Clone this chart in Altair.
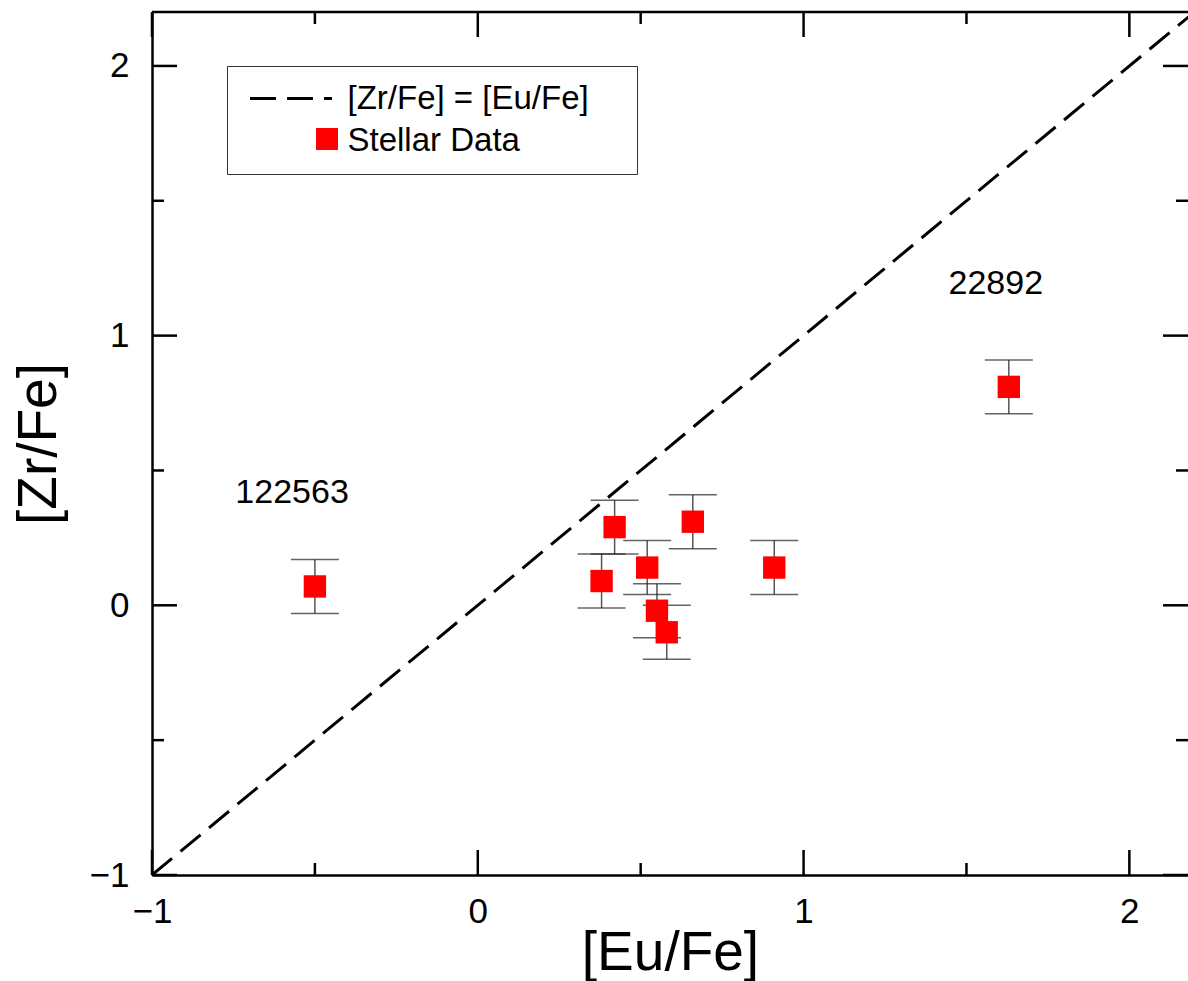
import altair as alt
import pandas as pd

# ---- data ----
eu_fe = [-0.50, 0.38, 0.42, 0.52, 0.55, 0.58, 0.66, 0.91, 1.63]
zr_fe = [0.07, 0.09, 0.29, 0.14, -0.02, -0.10, 0.31, 0.14, 0.81]
zr_err = [0.10, 0.10, 0.10, 0.10, 0.10, 0.10, 0.10, 0.10, 0.10]

line_x = [-1.0, 2.2]            # identity line [Zr/Fe] = [Eu/Fe]
label_text = ["122563", "22892"]
label_x = [-0.57, 1.59]
label_y = [0.415, 1.19]

major_ticks = [-1, 0, 1, 2]
minor_ticks = [-0.5, 0.5, 1.5]
line_name = "[Zr/Fe] = [Eu/Fe]"
point_name = "Stellar Data"

FONT = "Liberation Sans"
W, H = 1036, 863

pts = pd.DataFrame({"eu": eu_fe, "zr": zr_fe, "err": zr_err})
pts["lo"] = pts["zr"] - pts["err"]
pts["hi"] = pts["zr"] + pts["err"]
pts["series"] = point_name

line_df = pd.DataFrame({"eu": line_x, "zr": line_x, "series": line_name})
lab_df = pd.DataFrame({"eu": label_x, "zr": label_y, "txt": label_text})

xs = alt.Scale(domain=[-1, 2.18], nice=False, zero=False)
ys = alt.Scale(domain=[-1, 2.2], nice=False, zero=False)

xaxis = alt.Axis(values=major_ticks, format="d", ticks=False, tickSize=0, grid=False,
                 domain=True, domainColor="black", domainWidth=2.5,
                 labelFontSize=35, labelFont=FONT, labelColor="black", labelPadding=19,
                 labelFlush=False, labelOverlap=False,
                 title="[Eu/Fe]", titleFontSize=55, titleFont=FONT, titleFontWeight="normal",
                 titleColor="black", titleBaseline="alphabetic", titleY=94)
yaxis = alt.Axis(values=major_ticks, format="d", ticks=False, tickSize=0, grid=False,
                 domain=True, domainColor="black", domainWidth=2.5,
                 labelFontSize=35, labelFont=FONT, labelColor="black", labelPadding=23,
                 labelFlush=False, labelOverlap=False,
                 title="[Zr/Fe]", titleFontSize=55, titleFont=FONT, titleFontWeight="normal",
                 titleColor="black", titleBaseline="alphabetic", titleX=-97)


def X(field):
    return alt.X(field, type="quantitative", scale=xs, axis=xaxis)


def Y(field):
    return alt.Y(field, type="quantitative", scale=ys, axis=yaxis)


line = alt.Chart(line_df).mark_line(color="black", strokeWidth=3, clip=True).encode(
    x=X("eu"), y=Y("zr"),
    strokeDash=alt.StrokeDash(
        "series:N",
        scale=alt.Scale(domain=[line_name, point_name], range=[[26, 11], [0, 1000]]),
        legend=alt.Legend(orient="none", legendX=75, legendY=54, title=" ",
                          titleOrient="right", titleFontSize=1, titlePadding=32,
                          symbolType="M-3.727,0H3.727", symbolSize=484, symbolStrokeWidth=3,
                          symbolStrokeColor="black", symbolOffset=31.5,
                          labelFont=FONT, labelFontSize=33, labelColor="black",
                          labelOffset=40, labelLimit=500, rowPadding=8,
                          padding=16, strokeColor="#333333", fillColor="white"),
    ),
)

stems = alt.Chart(pts).mark_rule(color="#555555", strokeWidth=1.5).encode(
    x=X("eu"), y=Y("lo"), y2="hi")
cap_lo = alt.Chart(pts).mark_tick(color="#222222", orient="horizontal", size=48, thickness=1.5).encode(
    x=X("eu"), y=Y("lo"))
cap_hi = alt.Chart(pts).mark_tick(color="#222222", orient="horizontal", size=48, thickness=1.5).encode(
    x=X("eu"), y=Y("hi"))

squares = alt.Chart(pts).mark_square(size=500, opacity=1, strokeWidth=0).encode(
    x=X("eu"), y=Y("zr"),
    color=alt.Color(
        "series:N",
        scale=alt.Scale(domain=[point_name], range=["#ff0000"]),
        legend=alt.Legend(orient="none", legendX=164, legendY=116, title=None,
                          symbolType="square", symbolSize=484, symbolStrokeWidth=0,
                          symbolOpacity=1,
                          labelFontSize=1, labelOpacity=0, labelOffset=0, padding=0),
    ),
)

labels = alt.Chart(lab_df).mark_text(font=FONT, fontSize=34, color="black", baseline="middle",
                                     align="center").encode(
    x=X("eu"), y=Y("zr"), text="txt")

# ---- inward ticks on all four sides ----
tick_layers = []
for vals, ln in [(major_ticks, 25), (minor_ticks, 12)]:
    tdf = pd.DataFrame({"t": vals})
    base = alt.Chart(tdf).mark_rule(color="black", strokeWidth=2.5)
    tick_layers.append(base.encode(x=X("t"), y=alt.value(H), y2=alt.value(H - ln)))
    tick_layers.append(base.encode(x=X("t"), y=alt.value(0), y2=alt.value(ln)))
    tick_layers.append(base.encode(y=Y("t"), x=alt.value(0), x2=alt.value(ln)))
    tick_layers.append(base.encode(y=Y("t"), x=alt.value(W), x2=alt.value(W - ln)))

top_border = alt.Chart(pd.DataFrame({"t": [0]})).mark_rule(color="black", strokeWidth=2.5).encode(
    x=alt.value(0), x2=alt.value(W), y=alt.value(0))

chart = alt.layer(line, stems, cap_lo, cap_hi, squares, labels, top_border, *tick_layers).properties(
    width=W, height=H,
    autosize=alt.AutoSizeParams(type="none"),
    padding={"left": 152, "top": 12, "right": 0, "bottom": 106},
).resolve_legend(color="independent", strokeDash="independent").configure_view(stroke=None).configure(
    font=FONT, background="white")

chart.save("out.html", embed_options={"renderer": "svg", "actions": False})
